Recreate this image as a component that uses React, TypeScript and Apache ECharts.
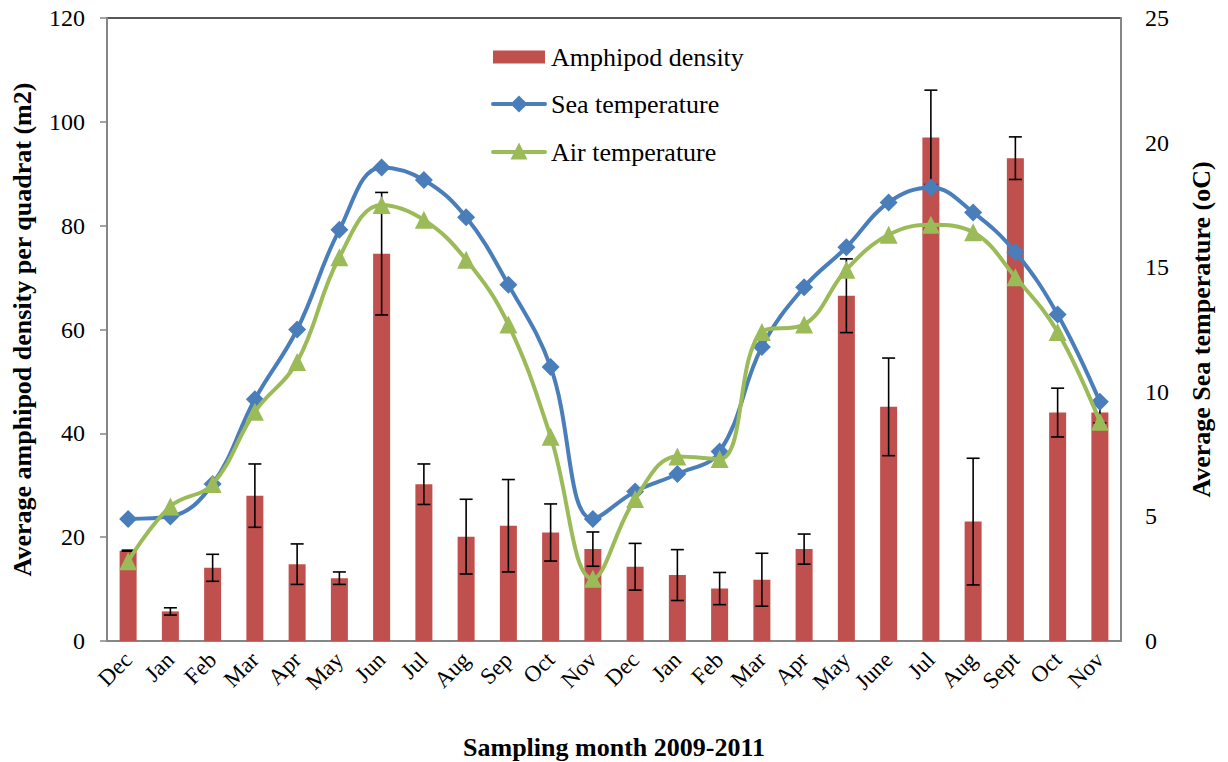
import React, { useEffect, useRef } from "react";
import * as echarts from "echarts";

// Sampling months, Dec 2009 – Nov 2011
const months = [
  "Dec", "Jan", "Feb", "Mar", "Apr", "May", "Jun", "Jul", "Aug", "Sep", "Oct", "Nov",
  "Dec", "Jan", "Feb", "Mar", "Apr", "May", "June", "Jul", "Aug", "Sept", "Oct", "Nov",
];

// Average amphipod density per quadrat (m2) and its error
const amphipodDensity = [
  17.4, 5.7, 14.1, 28.0, 14.8, 12.1, 74.6, 30.2, 20.1, 22.2, 20.9, 17.7,
  14.3, 12.7, 10.1, 11.8, 17.7, 66.5, 45.1, 97.0, 23.0, 93.0, 44.0, 44.0,
];
const densityError = [
  0.1, 0.7, 2.6, 6.1, 3.9, 1.2, 11.8, 3.9, 7.2, 8.9, 5.5, 3.3,
  4.5, 4.9, 3.1, 5.1, 2.9, 7.1, 9.4, 9.1, 12.2, 4.1, 4.7, 2.0,
];

// Temperatures (oC)
const seaTemperature = [
  4.9, 5.0, 6.3, 9.7, 12.5, 16.5, 19.0, 18.5, 17.0, 14.3, 11.0, 4.9,
  6.0, 6.7, 7.6, 11.8, 14.2, 15.8, 17.6, 18.2, 17.2, 15.6, 13.1, 9.6,
];
const airTemperature = [
  3.2, 5.4, 6.3, 9.2, 11.2, 15.4, 17.5, 16.9, 15.3, 12.7, 8.2, 2.5,
  5.7, 7.4, 7.3, 12.4, 12.7, 14.9, 16.3, 16.7, 16.4, 14.6, 12.4, 8.8,
];

const densityAxis = { min: 0, max: 120, interval: 20 };
const temperatureAxis = { min: 0, max: 25, interval: 5 };

const legendNames = ["Amphipod density", "Sea temperature", "Air temperature"];

const FONT = "Liberation Serif";
const RED = "#C0504D";
const BLUE = "#4A7EBB";
const GREEN = "#9BBB59";
const AXIS_GREY = "#868686";

// Legend drawn as graphic elements: swatch column at x0, rows ROW_STEP apart
function buildLegend() {
  const x0 = 493;
  const x1 = 545;
  const mid = (x0 + x1) / 2;
  const rows = [57, 104, 152];
  const textStyle = (text: string, y: number) => ({
    type: "text",
    x: 551,
    y,
    style: {
      text,
      fontFamily: FONT,
      fontSize: 26,
      fill: "#000",
      verticalAlign: "middle",
      align: "left",
    },
  });
  const r = 8.5;
  return [
    { type: "rect", shape: { x: x0, y: rows[0] - 6.5, width: x1 - x0, height: 13 }, style: { fill: RED } },
    textStyle(legendNames[0], rows[0]),
    {
      type: "line",
      shape: { x1: x0, y1: rows[1], x2: x1, y2: rows[1] },
      style: { stroke: BLUE, lineWidth: 4, lineCap: "round" },
    },
    {
      type: "polygon",
      shape: { points: [[mid, rows[1] - r], [mid + r, rows[1]], [mid, rows[1] + r], [mid - r, rows[1]]] },
      style: { fill: BLUE },
    },
    textStyle(legendNames[1], rows[1]),
    {
      type: "line",
      shape: { x1: x0, y1: rows[2], x2: x1, y2: rows[2] },
      style: { stroke: GREEN, lineWidth: 4, lineCap: "round" },
    },
    {
      type: "polygon",
      shape: { points: [[mid, rows[2] - r - 1], [mid + r, rows[2] + r - 1], [mid - r, rows[2] + r - 1]] },
      style: { fill: GREEN },
    },
    textStyle(legendNames[2], rows[2]),
  ];
}

export default function App() {
  const ref = useRef<HTMLDivElement>(null);

  useEffect(() => {
    if (!ref.current) return;
    const chart = echarts.init(ref.current, null, { renderer: "svg" });

    const errorData = amphipodDensity.map((v, i) => [i, v, densityError[i]]);

    chart.setOption({
      animation: false,
      backgroundColor: "#fff",
      textStyle: { fontFamily: FONT, color: "#000" },
      grid: {
        left: 107,
        right: 107,
        top: 18,
        bottom: 121,
        outerBoundsMode: "none",
        containLabel: false,
        show: true,
        borderColor: "#222",
        borderWidth: 1.5,
      },
      graphic: buildLegend(),
      xAxis: {
        type: "category",
        data: months,
        boundaryGap: true,
        name: "Sampling month 2009-2011",
        nameLocation: "middle",
        nameGap: 93,
        nameTextStyle: { fontFamily: FONT, fontSize: 26, fontWeight: "bold", color: "#000" },
        axisLine: { lineStyle: { color: AXIS_GREY, width: 2 } },
        axisTick: { show: false },
        axisLabel: {
          interval: 0,
          rotate: 45,
          margin: 15,
          fontFamily: FONT,
          fontSize: 23,
          color: "#000",
        },
      },
      yAxis: [
        {
          type: "value",
          position: "left",
          ...densityAxis,
          name: "Average amphipod density per quadrat (m2)",
          nameLocation: "middle",
          nameGap: 72,
          nameTextStyle: { fontFamily: FONT, fontSize: 26, fontWeight: "bold", color: "#000" },
          axisLine: { show: true, lineStyle: { color: AXIS_GREY, width: 2 } },
          axisTick: { show: true, inside: false, length: 7, lineStyle: { color: AXIS_GREY, width: 1.5 } },
          axisLabel: { margin: 22, fontFamily: FONT, fontSize: 24, color: "#000" },
          splitLine: { show: false },
        },
        {
          type: "value",
          position: "right",
          ...temperatureAxis,
          name: "Average Sea temperature (oC)",
          nameLocation: "middle",
          nameGap: 67,
          nameRotate: 90,
          nameTextStyle: { fontFamily: FONT, fontSize: 26, fontWeight: "bold", color: "#000" },
          axisLine: { show: true, lineStyle: { color: AXIS_GREY, width: 2 } },
          axisTick: { show: false },
          axisLabel: { margin: 24, fontFamily: FONT, fontSize: 24, color: "#000" },
          splitLine: { show: false },
        },
      ],
      series: [
        {
          name: legendNames[0],
          type: "bar",
          yAxisIndex: 0,
          data: amphipodDensity,
          barWidth: 17,
          itemStyle: { color: RED },
          z: 2,
        },
        {
          name: "Density error",
          type: "custom",
          yAxisIndex: 0,
          data: errorData,
          z: 3,
          encode: { x: 0, y: 1 },
          renderItem: (params: any, api: any) => {
            const i = api.value(0);
            const v = api.value(1);
            const e = api.value(2);
            const top = api.coord([i, v + e]);
            const bottom = api.coord([i, v - e]);
            const half = 6.5;
            const style = { stroke: "#000", lineWidth: 1.6 };
            return {
              type: "group",
              children: [
                { type: "line", shape: { x1: top[0], y1: top[1], x2: bottom[0], y2: bottom[1] }, style },
                { type: "line", shape: { x1: top[0] - half, y1: top[1], x2: top[0] + half, y2: top[1] }, style },
                { type: "line", shape: { x1: bottom[0] - half, y1: bottom[1], x2: bottom[0] + half, y2: bottom[1] }, style },
              ],
            };
          },
        },
        {
          name: legendNames[1],
          type: "line",
          yAxisIndex: 1,
          data: seaTemperature,
          smooth: 0.4,
          symbol: "diamond",
          symbolSize: 18,
          lineStyle: { color: BLUE, width: 4 },
          itemStyle: { color: BLUE },
          z: 5,
        },
        {
          name: legendNames[2],
          type: "line",
          yAxisIndex: 1,
          data: airTemperature,
          smooth: 0.4,
          symbol: "triangle",
          symbolSize: 18,
          lineStyle: { color: GREEN, width: 4 },
          itemStyle: { color: GREEN },
          z: 6,
        },
      ],
    });

    return () => chart.dispose();
  }, []);

  return (
    <div
      ref={ref}
      style={{ position: "fixed", left: 0, top: 0, width: 1228, height: 762, background: "#fff" }}
    />
  );
}
